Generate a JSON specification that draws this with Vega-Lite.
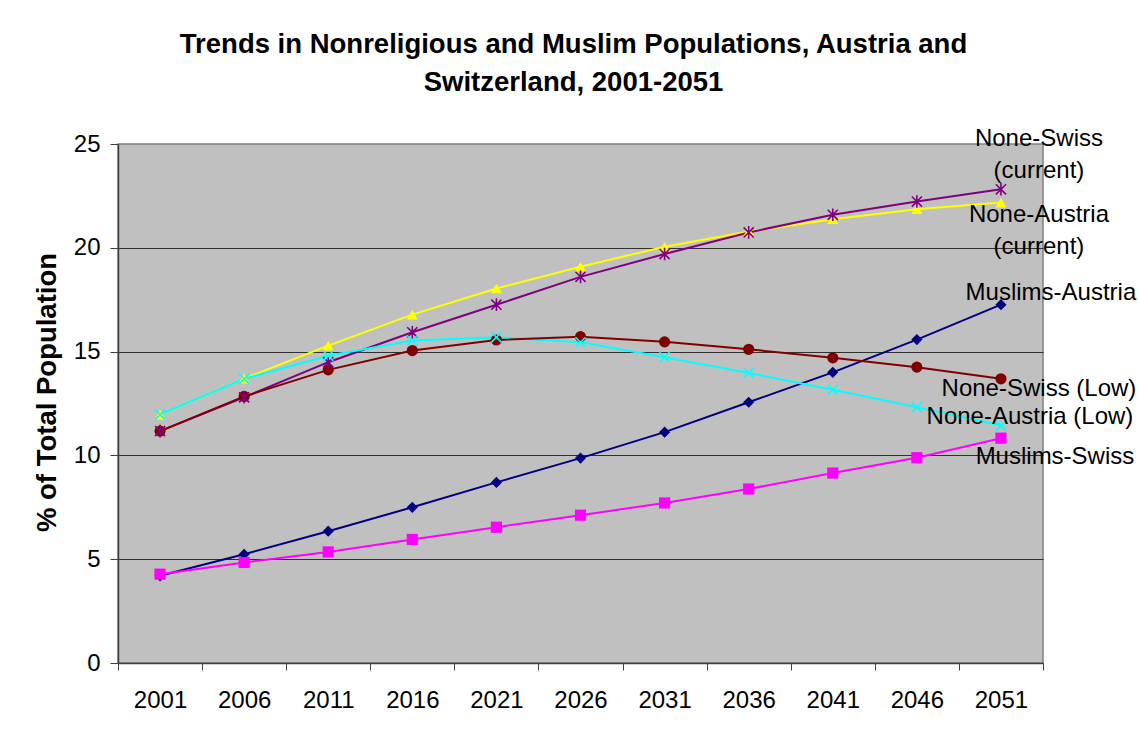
{
  "$schema": "https://vega.github.io/schema/vega-lite/v6.json",
  "autosize": "none",
  "width": 925,
  "height": 519,
  "padding": {"left": 118, "top": 144, "right": 95, "bottom": 69},
  "background": "white",
  "title": {
    "text": ["Trends in Nonreligious and Muslim Populations, Austria and", "Switzerland, 2001-2051"],
    "fontSize": 27.5,
    "fontWeight": "bold",
    "font": "Liberation Sans",
    "color": "black",
    "anchor": "middle",
    "frame": "group",
    "baseline": "alphabetic",
    "lineHeight": 38,
    "offset": 9,
    "dx": -7
  },
  "data": {
    "values": [
      {"year": 2001, "series": "Muslims-Austria", "value": 4.2},
      {"year": 2006, "series": "Muslims-Austria", "value": 5.24},
      {"year": 2011, "series": "Muslims-Austria", "value": 6.35},
      {"year": 2016, "series": "Muslims-Austria", "value": 7.5},
      {"year": 2021, "series": "Muslims-Austria", "value": 8.7},
      {"year": 2026, "series": "Muslims-Austria", "value": 9.87},
      {"year": 2031, "series": "Muslims-Austria", "value": 11.12},
      {"year": 2036, "series": "Muslims-Austria", "value": 12.56},
      {"year": 2041, "series": "Muslims-Austria", "value": 14.0},
      {"year": 2046, "series": "Muslims-Austria", "value": 15.58},
      {"year": 2051, "series": "Muslims-Austria", "value": 17.26},
      {"year": 2001, "series": "Muslims-Swiss", "value": 4.28},
      {"year": 2006, "series": "Muslims-Swiss", "value": 4.84},
      {"year": 2011, "series": "Muslims-Swiss", "value": 5.35},
      {"year": 2016, "series": "Muslims-Swiss", "value": 5.95},
      {"year": 2021, "series": "Muslims-Swiss", "value": 6.54},
      {"year": 2026, "series": "Muslims-Swiss", "value": 7.12},
      {"year": 2031, "series": "Muslims-Swiss", "value": 7.71},
      {"year": 2036, "series": "Muslims-Swiss", "value": 8.38},
      {"year": 2041, "series": "Muslims-Swiss", "value": 9.15},
      {"year": 2046, "series": "Muslims-Swiss", "value": 9.89},
      {"year": 2051, "series": "Muslims-Swiss", "value": 10.83},
      {"year": 2001, "series": "None-Austria (current)", "value": 11.95},
      {"year": 2006, "series": "None-Austria (current)", "value": 13.7},
      {"year": 2011, "series": "None-Austria (current)", "value": 15.29},
      {"year": 2016, "series": "None-Austria (current)", "value": 16.78},
      {"year": 2021, "series": "None-Austria (current)", "value": 18.04},
      {"year": 2026, "series": "None-Austria (current)", "value": 19.09},
      {"year": 2031, "series": "None-Austria (current)", "value": 20.05},
      {"year": 2036, "series": "None-Austria (current)", "value": 20.78},
      {"year": 2041, "series": "None-Austria (current)", "value": 21.38},
      {"year": 2046, "series": "None-Austria (current)", "value": 21.86},
      {"year": 2051, "series": "None-Austria (current)", "value": 22.18},
      {"year": 2001, "series": "None-Swiss (current)", "value": 11.17},
      {"year": 2006, "series": "None-Swiss (current)", "value": 12.8},
      {"year": 2011, "series": "None-Swiss (current)", "value": 14.49},
      {"year": 2016, "series": "None-Swiss (current)", "value": 15.93},
      {"year": 2021, "series": "None-Swiss (current)", "value": 17.26},
      {"year": 2026, "series": "None-Swiss (current)", "value": 18.6},
      {"year": 2031, "series": "None-Swiss (current)", "value": 19.7},
      {"year": 2036, "series": "None-Swiss (current)", "value": 20.74},
      {"year": 2041, "series": "None-Swiss (current)", "value": 21.59},
      {"year": 2046, "series": "None-Swiss (current)", "value": 22.23},
      {"year": 2051, "series": "None-Swiss (current)", "value": 22.82},
      {"year": 2001, "series": "None-Austria (Low)", "value": 11.97},
      {"year": 2006, "series": "None-Austria (Low)", "value": 13.69},
      {"year": 2011, "series": "None-Austria (Low)", "value": 14.8},
      {"year": 2016, "series": "None-Austria (Low)", "value": 15.53},
      {"year": 2021, "series": "None-Austria (Low)", "value": 15.69},
      {"year": 2026, "series": "None-Austria (Low)", "value": 15.45},
      {"year": 2031, "series": "None-Austria (Low)", "value": 14.73},
      {"year": 2036, "series": "None-Austria (Low)", "value": 13.97},
      {"year": 2041, "series": "None-Austria (Low)", "value": 13.16},
      {"year": 2046, "series": "None-Austria (Low)", "value": 12.32},
      {"year": 2051, "series": "None-Austria (Low)", "value": 11.44},
      {"year": 2001, "series": "None-Swiss (Low)", "value": 11.17},
      {"year": 2006, "series": "None-Swiss (Low)", "value": 12.84},
      {"year": 2011, "series": "None-Swiss (Low)", "value": 14.12},
      {"year": 2016, "series": "None-Swiss (Low)", "value": 15.05},
      {"year": 2021, "series": "None-Swiss (Low)", "value": 15.56},
      {"year": 2026, "series": "None-Swiss (Low)", "value": 15.72},
      {"year": 2031, "series": "None-Swiss (Low)", "value": 15.47},
      {"year": 2036, "series": "None-Swiss (Low)", "value": 15.11},
      {"year": 2041, "series": "None-Swiss (Low)", "value": 14.7},
      {"year": 2046, "series": "None-Swiss (Low)", "value": 14.25},
      {"year": 2051, "series": "None-Swiss (Low)", "value": 13.69}
    ]
  },
  "encoding": {
    "x": {
      "field": "year",
      "type": "ordinal",
      "scale": {"type": "band", "paddingInner": 0, "paddingOuter": 0},
      "axis": {
        "title": null,
        "labelAngle": 0,
        "tickBand": "extent",
        "ticks": true,
        "tickSize": 7,
        "tickColor": "#404040",
        "domainColor": "#404040",
        "domainWidth": 1.5,
        "labelFontSize": 24,
        "labelFont": "Liberation Sans",
        "labelColor": "black",
        "labelBaseline": "alphabetic",
        "labelPadding": 37,
        "grid": false
      }
    },
    "y": {
      "field": "value",
      "type": "quantitative",
      "scale": {"domain": [0, 25], "nice": false},
      "axis": {
        "values": [0, 5, 10, 15, 20, 25],
        "title": "% of Total Population",
        "titleFontSize": 27.5,
        "titleFontWeight": "bold",
        "titleFont": "Liberation Sans",
        "titleColor": "black",
        "titlePadding": 12,
        "titleY": 248,
        "labelFontSize": 24,
        "labelFont": "Liberation Sans",
        "labelColor": "black",
        "labelPadding": 10,
        "tickSize": 8,
        "tickColor": "#404040",
        "domainColor": "#404040",
        "domainWidth": 1.5,
        "grid": true,
        "gridColor": {"condition": {"test": "datum.value === 25", "value": "#909090"}, "value": "#303030"},
        "gridWidth": 1.2,
        "gridOpacity": 1
      }
    }
  },
  "resolve": {"scale": {"shape": "independent"}},
  "layer": [
    {
      "mark": {"type": "line", "strokeWidth": 2},
      "encoding": {
        "color": {
          "field": "series",
          "type": "nominal",
          "scale": {
            "domain": ["Muslims-Austria", "Muslims-Swiss", "None-Austria (current)", "None-Swiss (current)", "None-Austria (Low)", "None-Swiss (Low)"],
            "range": ["#000080", "#FF00FF", "#FFFF00", "#800080", "#00FFFF", "#800000"]
          },
          "legend": null
        }
      }
    },
    {
      "transform": [{"filter": "datum.series !== 'None-Swiss (current)' && datum.series !== 'None-Austria (Low)'"}],
      "mark": {"type": "point", "filled": true, "size": 125, "opacity": 1},
      "encoding": {
        "color": {"field": "series", "type": "nominal", "legend": null},
        "shape": {
          "field": "series",
          "type": "nominal",
          "scale": {
            "domain": ["Muslims-Austria", "Muslims-Swiss", "None-Austria (current)", "None-Swiss (Low)"],
            "range": ["diamond", "square", "triangle-up", "circle"]
          },
          "legend": null
        }
      }
    },
    {
      "transform": [{"filter": "datum.series === 'None-Swiss (current)' || datum.series === 'None-Austria (Low)'"}],
      "mark": {"type": "point", "filled": false, "size": 160, "strokeWidth": 1.6, "opacity": 1},
      "encoding": {
        "color": {"field": "series", "type": "nominal", "legend": null},
        "shape": {
          "field": "series",
          "type": "nominal",
          "scale": {
            "domain": ["None-Swiss (current)", "None-Austria (Low)"],
            "range": ["M0,-1L0,1M-0.8,-0.8L0.8,0.8M-0.8,0.8L0.8,-0.8", "M-0.8,-0.8L0.8,0.8M-0.8,0.8L0.8,-0.8"]
          },
          "legend": null
        }
      }
    },
    {
      "transform": [{"filter": "datum.year == 2051 && datum.series === 'None-Swiss (current)'"}],
      "mark": {"type": "text", "fontSize": 24, "font": "Liberation Sans", "color": "black", "align": "center", "baseline": "middle", "lineBreak": " ", "lineHeight": 32, "dx": 38, "dy": -50},
      "encoding": {"text": {"field": "series"}}
    },
    {
      "transform": [{"filter": "datum.year == 2051 && datum.series === 'None-Austria (current)'"}],
      "mark": {"type": "text", "fontSize": 24, "font": "Liberation Sans", "color": "black", "align": "center", "baseline": "middle", "lineBreak": " ", "lineHeight": 32, "dx": 38, "dy": 12},
      "encoding": {"text": {"field": "series"}}
    },
    {
      "transform": [{"filter": "datum.year == 2051 && datum.series === 'Muslims-Austria'"}],
      "mark": {"type": "text", "fontSize": 24, "font": "Liberation Sans", "color": "black", "align": "center", "baseline": "middle", "dx": 50, "dy": -12},
      "encoding": {"text": {"field": "series"}}
    },
    {
      "transform": [{"filter": "datum.year == 2051 && datum.series === 'None-Swiss (Low)'"}],
      "mark": {"type": "text", "fontSize": 24, "font": "Liberation Sans", "color": "black", "align": "center", "baseline": "middle", "dx": 38, "dy": 10},
      "encoding": {"text": {"field": "series"}}
    },
    {
      "transform": [{"filter": "datum.year == 2051 && datum.series === 'None-Austria (Low)'"}],
      "mark": {"type": "text", "fontSize": 24, "font": "Liberation Sans", "color": "black", "align": "center", "baseline": "middle", "dx": 29, "dy": -9},
      "encoding": {"text": {"field": "series"}}
    },
    {
      "transform": [{"filter": "datum.year == 2051 && datum.series === 'Muslims-Swiss'"}],
      "mark": {"type": "text", "fontSize": 24, "font": "Liberation Sans", "color": "black", "align": "center", "baseline": "middle", "dx": 54, "dy": 19},
      "encoding": {"text": {"field": "series"}}
    }
  ],
  "config": {
    "view": {"stroke": "#808080", "strokeWidth": 1.5, "fill": "#C0C0C0"},
    "font": "Liberation Sans"
  }
}
